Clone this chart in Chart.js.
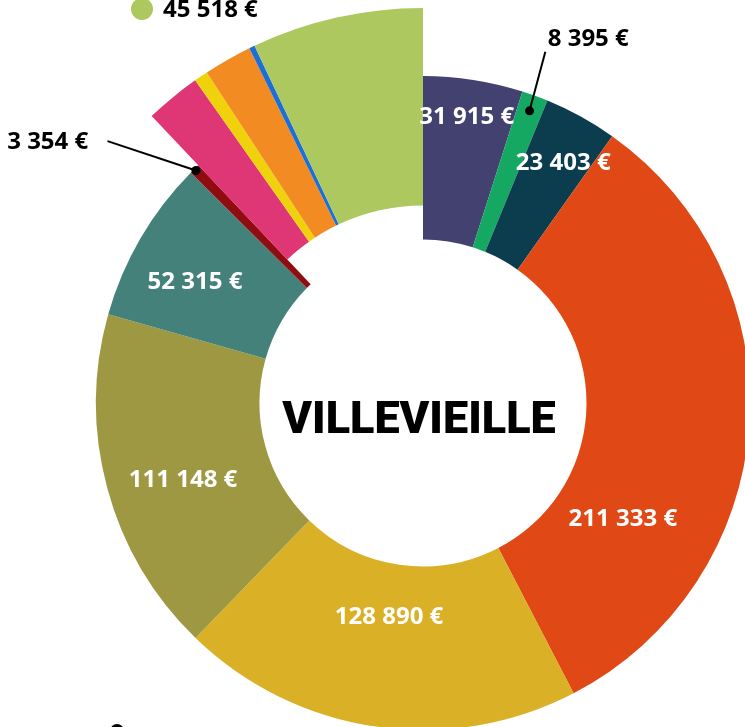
<!DOCTYPE html>
<html lang="fr">
<head>
<meta charset="utf-8">
<title>Villevieille</title>
<script src="https://cdn.jsdelivr.net/npm/chart.js@4.4.1/dist/chart.umd.min.js"></script>
<style>
  html, body { margin: 0; padding: 0; background: #fff; overflow: hidden; width: 745px; height: 727px; }
  .ring { position: absolute; left: 0; top: 0; width: 846px; height: 806px; }
</style>
</head>
<body>
<div class="ring"><canvas id="mainRing"></canvas></div>
<div class="ring"><canvas id="raisedRing"></canvas></div>
<script>
// montants par poste, dans le sens horaire depuis midi
const amounts = [31915, 8395, 23403, 211333, 128890, 111148, 52315, 3354, 14700, 3700, 12800, 1500, 45518];
const sliceColors = [
  "#43416f", "#15a862", "#0b3d4f", "#e04915", "#dab027", "#9e9842", "#44817a",
  "#8f0d10", "#df3775", "#f0d20c", "#f28c22", "#1b6fd6", "#adc85f"
];
// les cinq derniers postes sont sortis sur un anneau plus grand
const raised = [false, false, false, false, false, false, false, false, true, true, true, true, true];
const townName = "VILLEVIEILLE";

const euro = (v) => String(v).replace(/\B(?=(\d{3})+(?!\d))/g, " ") + " €";

// étiquettes blanches posées sur l'anneau (angle en degrés depuis midi, rayon en px)
const insideLabels = [
  { slice: 0, angle: 8.7, r: 289 },
  { slice: 2, angle: 30.3, r: 278 },
  { slice: 3, angle: 120.1, r: 231 },
  { slice: 4, angle: 189.0, r: 217 },
  { slice: 5, angle: 252.2, r: 252 },
  { slice: 6, angle: 297.9, r: 258 },
];
// petits postes : point + trait vers le montant
const callouts = [
  { slice: 1, dotR: 311, endAngle: 19.2, endR: 372, textAngle: 24.4, textR: 400 },
  { slice: 7, dotR: 325, endAngle: 309.7, endR: 410, textAngle: 304.8, textR: 457 },
];

function polar(cx, cy, deg, r) {
  const a = deg * Math.PI / 180;
  return [cx + r * Math.sin(a), cy - r * Math.cos(a)];
}

const labelPlugin = {
  id: "montants",
  afterDraw(chart) {
    const ctx = chart.ctx;
    const arcs = chart.getDatasetMeta(0).data;
    const cx = arcs[0].x, cy = arcs[0].y;
    ctx.save();
    ctx.textAlign = "center";
    ctx.textBaseline = "middle";
    ctx.font = "700 24px 'Open Sans'";

    ctx.fillStyle = "#ffffff";
    insideLabels.forEach((l) => {
      const [x, y] = polar(cx, cy, l.angle, l.r);
      ctx.fillText(euro(amounts[l.slice]), x, y);
    });

    ctx.fillStyle = "#000000";
    ctx.strokeStyle = "#000000";
    ctx.lineWidth = 2;
    callouts.forEach((c) => {
      const arc = arcs[c.slice];
      const mid = (arc.startAngle + arc.endAngle) / 2;
      const dx = cx + c.dotR * Math.cos(mid), dy = cy + c.dotR * Math.sin(mid);
      const [ex, ey] = polar(cx, cy, c.endAngle, c.endR);
      ctx.beginPath();
      ctx.moveTo(dx, dy);
      ctx.lineTo(ex, ey);
      ctx.stroke();
      ctx.beginPath();
      ctx.arc(dx, dy, 4.5, 0, Math.PI * 2);
      ctx.fill();
      const [tx, ty] = polar(cx, cy, c.textAngle, c.textR);
      ctx.fillText(euro(amounts[c.slice]), tx, ty);
    });

    // pastille de légende du dernier poste
    ctx.fillStyle = sliceColors[12];
    ctx.beginPath();
    ctx.arc(142, 9, 11, 0, Math.PI * 2);
    ctx.fill();
    ctx.fillStyle = "#000000";
    ctx.textAlign = "left";
    ctx.fillText(euro(amounts[12]), 163, 10);

    // amorce d'un repère en bas
    ctx.beginPath();
    ctx.arc(117, 731, 7, 0, Math.PI * 2);
    ctx.fill();

    // nom de la commune au centre
    ctx.textAlign = "center";
    ctx.textBaseline = "alphabetic";
    ctx.font = "900 45px Roboto";
    ctx.fillText(townName, cx - 4, cy + 30);
    ctx.restore();
  },
};

function ringChart(id, radius, colorFor, plugins) {
  return new Chart(document.getElementById(id), {
    type: "doughnut",
    data: {
      labels: amounts.map(euro),
      datasets: [{
        data: amounts,
        backgroundColor: sliceColors.map(colorFor),
        borderWidth: 0,
      }],
    },
    options: {
      responsive: true,
      maintainAspectRatio: false,
      animation: false,
      events: [],
      radius: radius,
      cutout: "50%",
      plugins: { legend: { display: false }, tooltip: { enabled: false } },
    },
    plugins: plugins,
  });
}

ringChart("mainRing", 327, (c, i) => (raised[i] ? "rgba(0,0,0,0)" : c), []);
ringChart("raisedRing", 395, (c, i) => (raised[i] ? c : "rgba(0,0,0,0)"), [labelPlugin]);
</script>
</body>
</html>
